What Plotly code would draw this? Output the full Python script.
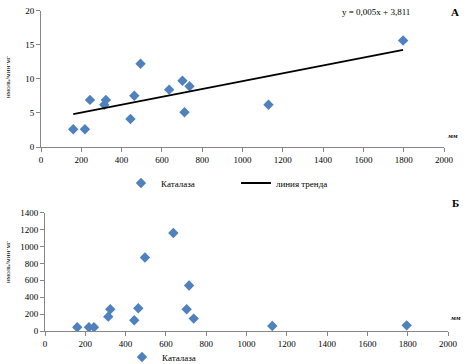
import numpy as np
import plotly.graph_objects as go

# data
dist_top = [160, 218, 243, 314, 322, 444, 463, 494, 636, 702, 712, 737, 1129, 1797]
catalase_top = [2.6, 2.6, 6.9, 6.2, 6.9, 4.1, 7.5, 12.2, 8.4, 9.7, 5.1, 8.9, 6.2, 15.6]

dist_bot = [160, 218, 243, 314, 324, 443, 463, 496, 637, 703, 715, 738, 1128, 1795]
catalase_bot = [44, 44, 44, 170, 257, 127, 270, 870, 1159, 257, 538, 147, 59, 67]

x_ticks = [0, 200, 400, 600, 800, 1000, 1200, 1400, 1600, 1800, 2000]
y_ticks_top = [0, 5, 10, 15, 20]
y_ticks_bot = [0, 200, 400, 600, 800, 1000, 1200, 1400]

# linear trend (least squares)
slope, intercept = np.polyfit(dist_top, catalase_top, 1)
trend_x = [min(dist_top), max(dist_top)]
trend_y = [slope * v + intercept for v in trend_x]

FONT = "Liberation Serif"
BLUE = "#4F81BD"
AX = "#868686"

fig = go.Figure()
fig.add_trace(go.Scatter(x=dist_top, y=catalase_top, mode="markers", name="Каталаза",
                         marker=dict(symbol="diamond", size=8, color=BLUE),
                         xaxis="x", yaxis="y", legend="legend"))
fig.add_trace(go.Scatter(x=trend_x, y=trend_y, mode="lines", name="линия тренда",
                         line=dict(color="black", width=1.8),
                         xaxis="x", yaxis="y", legend="legend"))
fig.add_trace(go.Scatter(x=dist_bot, y=catalase_bot, mode="markers", name="Каталаза",
                         marker=dict(symbol="diamond", size=8, color=BLUE),
                         xaxis="x2", yaxis="y2", legend="legend2"))

W, H = 468, 364
def px(xp):
    return xp / W
def py(yp):
    return (H - yp) / H

axis_common = dict(showgrid=False, zeroline=False, showline=True, linecolor=AX, linewidth=1,
                   ticks="outside", ticklen=4, tickcolor=AX, automargin=False,
                   tickfont=dict(family=FONT, size=9, color="black"))

fig.update_layout(
    template="none",
    width=W, height=H, margin=dict(l=0, r=0, t=0, b=0, autoexpand=False),
    paper_bgcolor="white", plot_bgcolor="white",
    font=dict(family=FONT, size=9, color="black"),
    xaxis=dict(domain=[px(41), px(444)], range=[0, 2000], tickvals=x_ticks, anchor="y", **axis_common),
    yaxis=dict(domain=[py(147), py(10.5)], range=[0, 20], tickvals=y_ticks_top, anchor="x", **axis_common),
    xaxis2=dict(domain=[px(45), px(448)], range=[0, 2000], tickvals=x_ticks, anchor="y2", **axis_common),
    yaxis2=dict(domain=[py(331), py(212.7)], range=[0, 1400], tickvals=y_ticks_bot, anchor="x2", **axis_common),
    legend=dict(orientation="h", x=px(121), y=py(183), xanchor="left", yanchor="middle",
                entrywidth=70, font=dict(family=FONT, size=9), bgcolor="rgba(0,0,0,0)",
                itemwidth=30),
    legend2=dict(orientation="h", x=px(122), y=py(357), xanchor="left", yanchor="middle",
                 font=dict(family=FONT, size=9), bgcolor="rgba(0,0,0,0)", itemwidth=30),
    showlegend=True,
)

ann = [
    dict(text="y = 0,005x + 3,811", x=px(376), y=py(12), font=dict(size=9)),
    dict(text="<b>А</b>", x=px(455), y=py(12), font=dict(size=11)),
    dict(text="<b>Б</b>", x=px(455), y=py(203), font=dict(size=11)),
    dict(text="<b><i>мм</i></b>", x=px(452), y=py(136), font=dict(size=7)),
    dict(text="<b><i>мм</i></b>", x=px(455), y=py(318), font=dict(size=7)),
    dict(text="нмоль/мин·мг", x=px(8), y=py(77), textangle=-90, font=dict(size=7)),
    dict(text="нмоль/мин·мг", x=px(8), y=py(262), textangle=-90, font=dict(size=7)),
]
for a in ann:
    a.update(xref="paper", yref="paper", showarrow=False, xanchor="center", yanchor="middle")
    a["font"] = dict(family=FONT, color="black", **a["font"])
    fig.add_annotation(**a)

fig.write_html("out.html", config={"displayModeBar": False},
               post_script="document.body.style.margin='0px';document.body.style.overflow='hidden';")
